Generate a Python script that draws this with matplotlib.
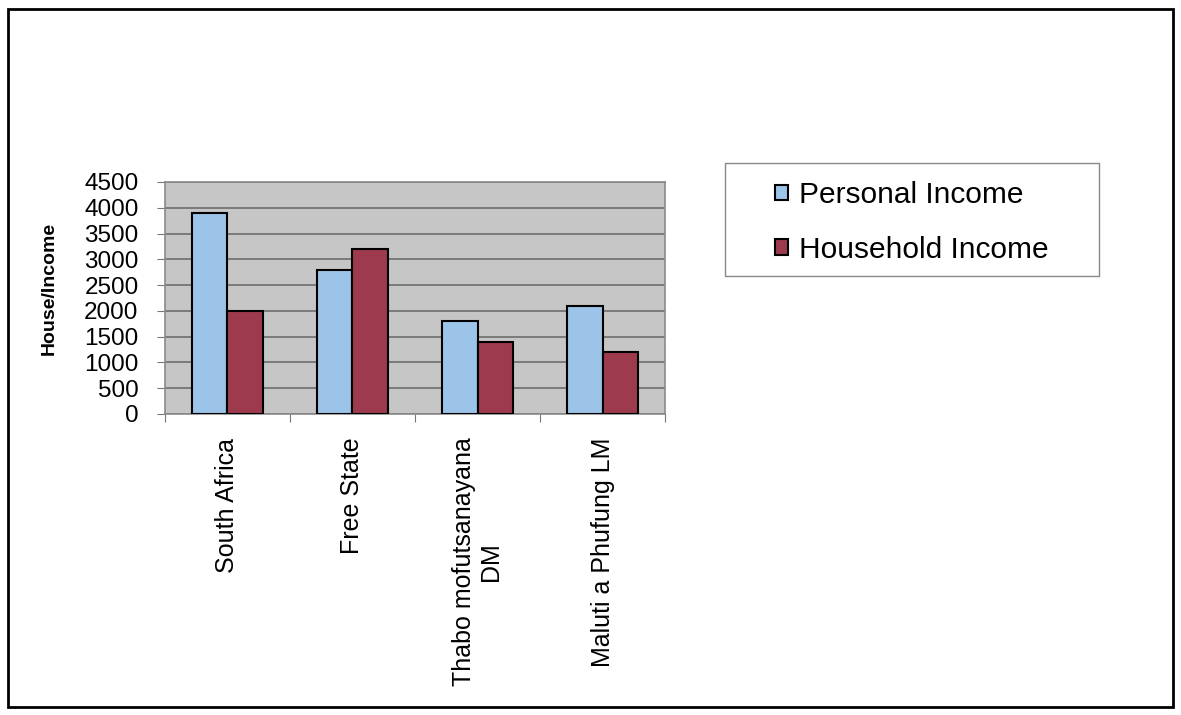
import matplotlib.pyplot as plt
import numpy as np
from matplotlib.patches import Rectangle

places = ['South Africa', 'Free State', 'Thabo mofutsanayana\nDM', 'Maluti a Phufung LM']
personal = [3900, 2800, 1800, 2100]
household = [2000, 3200, 1400, 1200]
yticks = [0, 500, 1000, 1500, 2000, 2500, 3000, 3500, 4000, 4500]

plt.rcParams['font.family'] = ['Liberation Sans', 'DejaVu Sans']

fig = plt.figure(figsize=(11.81, 7.15), dpi=100)
ax = fig.add_axes([0.1397, 0.421, 0.4234, 0.3245])

x = np.arange(len(places))
w = 1 / 3.5
ax.bar(x - w / 2, personal, w, color='#9cc3e8', edgecolor='black', linewidth=1.5,
       label='Personal Income', zorder=3)
ax.bar(x + w / 2, household, w, color='#9e3a4e', edgecolor='black', linewidth=1.5,
       label='Household Income', zorder=3)

ax.set_facecolor('#c6c6c6')
ax.set_xlim(-0.5, len(places) - 0.5)
ax.set_ylim(0, 4500)
ax.set_yticks(yticks)
ax.grid(axis='y', color='#6e6e6e', linewidth=1.2, zorder=1)
ax.tick_params(axis='y', labelsize=17.5, length=6, pad=13, color='#777777')

# ticks between groups, labels at group centres
ax.set_xticks(np.arange(len(places) + 1) - 0.5)
ax.set_xticklabels([])
ax.set_xticks(x, minor=True)
ax.set_xticklabels(places, minor=True, rotation=90, fontsize=18, va='top', ha='center')
ax.tick_params(axis='x', which='major', length=6, color='#777777')
ax.tick_params(axis='x', which='minor', length=0, pad=17)

for s in ax.spines.values():
    s.set_color('#8a8a8a')
    s.set_linewidth(1.2)

fig.text(0.042, 0.596, 'House/Income', rotation=90, fontsize=14, fontweight='bold',
         ha='center', va='center')

# legend box drawn separately so the frame can be wider than the entries
fig.patches.append(Rectangle((725 / 1181, 1 - 276 / 715), 374 / 1181, 113 / 715,
                             transform=fig.transFigure, fill=False,
                             edgecolor='#888888', linewidth=1))
leg = fig.legend(loc='upper left', bbox_to_anchor=(775 / 1181, 1 - 181 / 715), fontsize=21.5,
                 frameon=False, handlelength=0.42, handleheight=0.42,
                 handletextpad=0.4, labelspacing=0.9, borderpad=0, borderaxespad=0)

fig.patches.append(Rectangle((8 / 1181, 8 / 715), 1165 / 1181, 698 / 715, transform=fig.transFigure,
                             fill=False, edgecolor='black', linewidth=2))

fig.savefig('out.png', dpi=100)
